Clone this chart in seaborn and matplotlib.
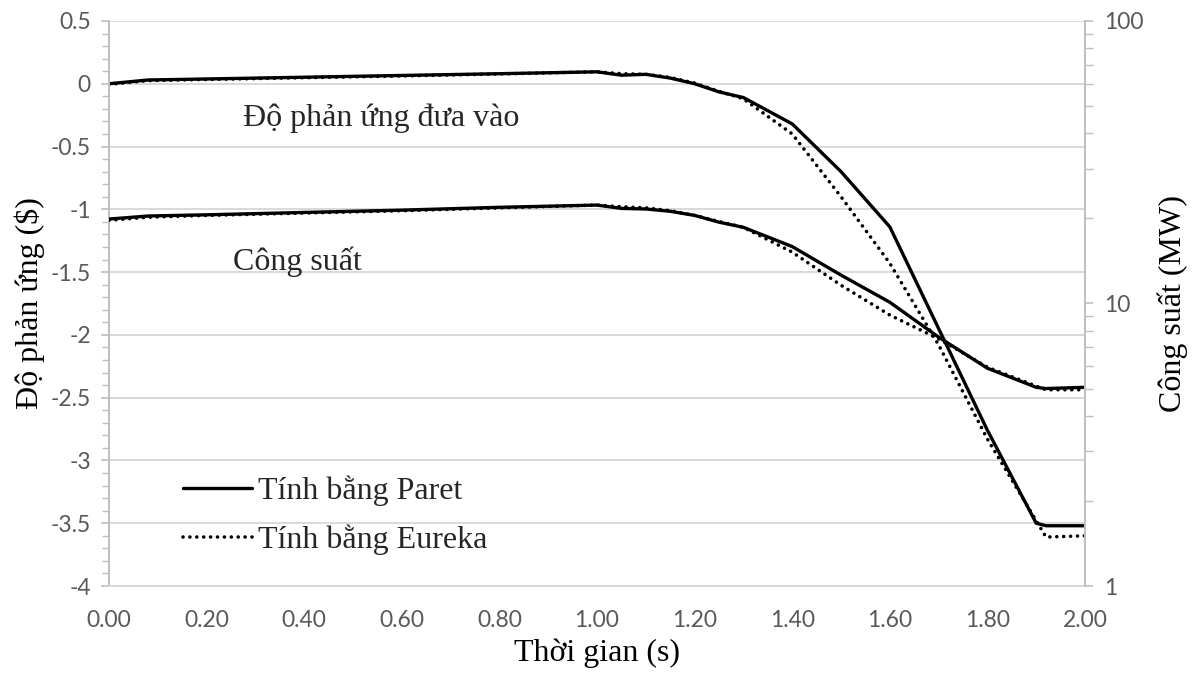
import numpy as np
import pandas as pd
import matplotlib
matplotlib.use("Agg")
import matplotlib.pyplot as plt
from matplotlib.ticker import MultipleLocator, LogLocator, NullFormatter, FixedLocator, FixedFormatter
import seaborn as sns

# Time points (s)
time = [0.00, 0.08, 0.20, 0.40, 0.60, 0.80, 1.00, 1.05, 1.10, 1.15, 1.20,
        1.25, 1.30, 1.40, 1.50, 1.60, 1.70, 1.80, 1.90, 1.92, 2.00]

# Inserted reactivity ($)
rho_paret = [0.000, 0.030, 0.038, 0.052, 0.066, 0.080, 0.095, 0.068, 0.075, 0.045, 0.000,
             -0.065, -0.110, -0.320, -0.700, -1.140, -1.950, -2.760, -3.500, -3.520, -3.520]
rho_eureka = [-0.005, 0.025, 0.034, 0.048, 0.062, 0.078, 0.095, 0.080, 0.075, 0.050, 0.005,
              -0.060, -0.120, -0.400, -0.900, -1.430, -2.080, -2.830, -3.480, -3.610, -3.600]

# Power (MW)
pow_paret = [19.9, 20.4, 20.6, 21.0, 21.4, 21.9, 22.3, 21.7, 21.6, 21.2, 20.5,
             19.4, 18.6, 15.9, 12.6, 10.1, 7.6, 5.9, 5.05, 5.0, 5.05]
pow_eureka = [19.7, 20.2, 20.5, 20.9, 21.3, 21.8, 22.3, 22.0, 21.8, 21.3, 20.5,
              19.5, 18.6, 15.2, 11.6, 9.1, 7.5, 5.95, 5.1, 4.95, 4.95]

series_labels = ["Tính bằng Paret", "Tính bằng Eureka"]
x_ticks = [0.0, 0.2, 0.4, 0.6, 0.8, 1.0, 1.2, 1.4, 1.6, 1.8, 2.0]
y_ticks = [0.5, 0, -0.5, -1, -1.5, -2, -2.5, -3, -3.5, -4]

sns.set_theme(style="white")
plt.rcParams["font.family"] = ["Liberation Serif", "DejaVu Serif"]

tick_font = "Lato"
tick_color = "#595959"
axis_grey = "#bfbfbf"
grid_grey = "#d9d9d9"

fig = plt.figure(figsize=(11.93, 6.76), dpi=100)
ax = fig.add_axes([0.0914, 0.1331, 0.8181, 0.8359])
ax2 = ax.twinx()

solid_kw = dict(color="black", linewidth=2.4, solid_joinstyle="round")
dot_kw = dict(color="black", linewidth=2.6, linestyle=(0, (0.01, 1.9)),
              dash_capstyle="round")

sns.lineplot(x=time, y=rho_paret, ax=ax, label=series_labels[0], **solid_kw)
sns.lineplot(x=time, y=rho_eureka, ax=ax, label=series_labels[1], **dot_kw)
sns.lineplot(x=time, y=pow_paret, ax=ax2, **solid_kw)
sns.lineplot(x=time, y=pow_eureka, ax=ax2, **dot_kw)

# Left axis: reactivity
ax.set_xlim(0, 2.0)
ax.set_ylim(-4, 0.5)
ax.yaxis.set_major_locator(FixedLocator(y_ticks))
ax.yaxis.set_major_formatter(FixedFormatter([f"{v:g}" for v in y_ticks]))
ax.yaxis.set_minor_locator(MultipleLocator(0.1))
ax.xaxis.set_major_locator(FixedLocator(x_ticks))
ax.xaxis.set_major_formatter(FixedFormatter([f"{v:.2f}" for v in x_ticks]))
ax.grid(axis="y", which="major", color=grid_grey, linewidth=1.4)
ax.grid(axis="x", visible=False)
ax.set_axisbelow(True)

# Right axis: power on a log scale
ax2.set_yscale("log")
ax2.set_ylim(1, 100)
ax2.yaxis.set_major_locator(FixedLocator([1, 10, 100]))
ax2.yaxis.set_major_formatter(FixedFormatter(["1", "10", "100"]))
ax2.yaxis.set_minor_locator(LogLocator(base=10, subs=np.arange(2, 10)))
ax2.yaxis.set_minor_formatter(NullFormatter())
ax2.grid(False)

for a in (ax, ax2):
    for s in a.spines.values():
        s.set_visible(False)
ax.spines["left"].set_visible(True)
ax.spines["left"].set_color(axis_grey)
ax.spines["left"].set_linewidth(1.4)
ax2.spines["right"].set_visible(True)
ax2.spines["right"].set_color(axis_grey)
ax2.spines["right"].set_linewidth(1.4)
ax.spines["bottom"].set_visible(True)
ax.spines["bottom"].set_color(grid_grey)
ax.spines["bottom"].set_linewidth(1.4)

ax.tick_params(axis="y", which="major", left=True, direction="out", length=6,
               width=1.2, color=axis_grey, labelsize=16.5, labelcolor=tick_color, pad=7)
ax.tick_params(axis="y", which="minor", left=True, direction="out", length=5,
               width=1.0, color=axis_grey)
ax.tick_params(axis="x", which="both", bottom=False, labelsize=16.5,
               labelcolor=tick_color, pad=11)
ax2.tick_params(axis="y", which="major", right=True, direction="out", length=6,
                width=1.2, color=axis_grey, labelsize=16.5, labelcolor=tick_color, pad=8)
ax2.tick_params(axis="y", which="minor", right=True, direction="out", length=6,
                width=1.0, color=axis_grey)
for lab in ax.get_xticklabels() + ax.get_yticklabels() + ax2.get_yticklabels():
    lab.set_fontfamily(tick_font)

ax.set_xlabel("Thời gian (s)", fontsize=23, color="black", labelpad=6)
ax.set_ylabel("Độ phản ứng ($)", fontsize=23, color="black", labelpad=4)
ax2.set_ylabel("Công suất (MW)", fontsize=23, color="black", labelpad=10)

ax.text(0.275, -0.275, "Độ phản ứng đưa vào", fontsize=23, ha="left", va="center")
ax.text(0.255, -1.42, "Công suất", fontsize=23, ha="left", va="center")

leg = ax.legend(loc="upper left", bbox_to_anchor=(0.0758, 0.196), frameon=False,
                fontsize=23, handlelength=2.15, handletextpad=0.2,
                labelspacing=0.6, borderaxespad=0, borderpad=0)

fig.savefig("out.png", dpi=100)
